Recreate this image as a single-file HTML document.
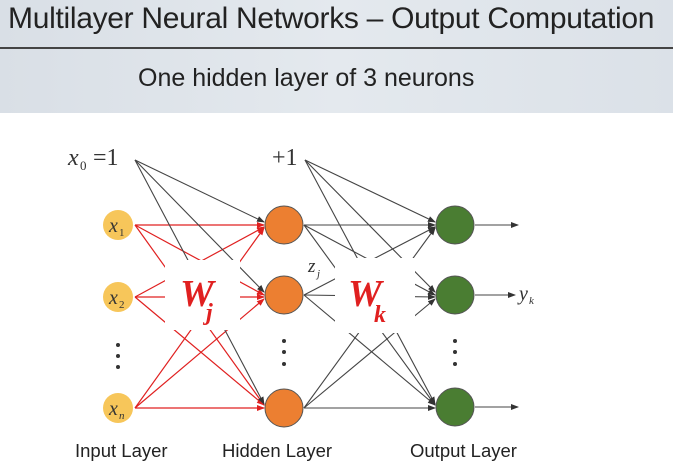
<!DOCTYPE html>
<html><head><style>
body{margin:0;width:673px;height:472px;overflow:hidden;background:#fff;font-family:"Liberation Sans",sans-serif;}
.hdr{position:absolute;left:0;top:0;width:673px;height:113px;background:linear-gradient(90deg,#d9dfe6,#e4e9ee 50%,#dbe1e8);}
.t{position:absolute;left:8px;top:2px;font-size:30px;color:#222;letter-spacing:-0.3px;}
.line{position:absolute;left:0;top:47px;width:673px;height:2px;background:#444;}
.s{position:absolute;left:138px;top:64px;font-size:25px;color:#222;}
.lab{position:absolute;top:440px;font-size:18.5px;color:#222;}
</style></head><body>
<div class="hdr"></div>
<div class="t">Multilayer Neural Networks – Output Computation</div>
<div class="line"></div>
<div class="s">One hidden layer of 3 neurons</div>
<svg width="673" height="472" style="position:absolute;left:0;top:0">
<defs>
<marker id="r" markerWidth="8" markerHeight="6" refX="7" refY="3" orient="auto" markerUnits="userSpaceOnUse"><path d="M0,0L8,3L0,6z" fill="#e02020"/></marker>
<marker id="g" markerWidth="8" markerHeight="6" refX="7" refY="3" orient="auto" markerUnits="userSpaceOnUse"><path d="M0,0L8,3L0,6z" fill="#333"/></marker>
</defs>
<g stroke="#e02020" stroke-width="1.2" marker-end="url(#r)">
<line x1="135" y1="225" x2="264" y2="225"/><line x1="135" y1="225" x2="264" y2="295"/><line x1="135" y1="225" x2="264" y2="405"/>
<line x1="135" y1="297" x2="264" y2="227"/><line x1="135" y1="297" x2="264" y2="297"/><line x1="135" y1="297" x2="264" y2="405"/>
<line x1="135" y1="408" x2="264" y2="228"/><line x1="135" y1="408" x2="264" y2="299"/><line x1="135" y1="408" x2="264" y2="408"/>
</g>
<g stroke="#444" stroke-width="1.1" marker-end="url(#g)">
<line x1="135" y1="160" x2="264" y2="222"/><line x1="135" y1="160" x2="264" y2="292"/><line x1="135" y1="160" x2="264" y2="404"/>
<line x1="305" y1="160" x2="435" y2="222"/><line x1="305" y1="160" x2="435" y2="292"/><line x1="305" y1="160" x2="435" y2="404"/>
<line x1="304" y1="225" x2="435" y2="225"/><line x1="304" y1="225" x2="435" y2="295"/><line x1="304" y1="225" x2="435" y2="405"/>
<line x1="304" y1="295" x2="435" y2="227"/><line x1="304" y1="295" x2="435" y2="297"/><line x1="304" y1="295" x2="435" y2="405"/>
<line x1="304" y1="408" x2="435" y2="228"/><line x1="304" y1="408" x2="435" y2="299"/><line x1="304" y1="408" x2="435" y2="408"/>
<line x1="475" y1="225" x2="518" y2="225"/><line x1="475" y1="295" x2="515" y2="295"/><line x1="475" y1="407" x2="518" y2="407"/>
</g>
<rect x="165" y="260" width="75" height="70" fill="#fff"/>
<rect x="335" y="258" width="80" height="75" fill="#fff"/>
<g fill="#f7c65a"><circle cx="118" cy="225" r="15"/><circle cx="118" cy="297" r="15"/><circle cx="118" cy="408" r="15"/></g>
<g fill="#ec7f31" stroke="#555"><circle cx="284" cy="225" r="19"/><circle cx="284" cy="295" r="19"/><circle cx="284" cy="408" r="19"/></g>
<g fill="#4a7d32" stroke="#555"><circle cx="455" cy="225" r="19"/><circle cx="455" cy="295" r="19"/><circle cx="455" cy="407" r="19"/></g>
<g fill="#333"><circle cx="118" cy="345" r="2"/><circle cx="118" cy="356" r="2"/><circle cx="118" cy="367" r="2"/>
<circle cx="284" cy="341" r="2"/><circle cx="284" cy="352" r="2"/><circle cx="284" cy="364" r="2"/>
<circle cx="455" cy="341" r="2"/><circle cx="455" cy="352" r="2"/><circle cx="455" cy="364" r="2"/></g>
<g font-family="Liberation Serif" fill="#333" font-style="italic">
<text x="109" y="232" font-size="20">x</text><text x="119" y="236" font-size="11" font-style="normal">1</text>
<text x="109" y="304" font-size="20">x</text><text x="119" y="308" font-size="11" font-style="normal">2</text>
<text x="109" y="415" font-size="20">x</text><text x="119" y="419" font-size="11">n</text>
<text x="68" y="165" font-size="24">x</text><text x="80" y="170" font-size="13" font-style="normal">0</text>
<text x="93" y="165" font-size="24" font-style="normal">=1</text>
<text x="272" y="165" font-size="24" font-style="normal">+1</text>
<text x="308" y="272" font-size="19">z</text><text x="317" y="277" font-size="11">j</text>
<text x="519" y="300" font-size="20">y</text><text x="529" y="304" font-size="11">k</text>
</g>
<g font-family="Liberation Serif" fill="#e02020" font-style="italic" font-weight="bold">
<text x="180" y="306" font-size="38">W</text><text x="206" y="320" font-size="24">j</text>
<text x="348" y="306" font-size="38">W</text><text x="374" y="322" font-size="24">k</text>
</g>
</svg>
<div class="lab" style="left:75px">Input Layer</div>
<div class="lab" style="left:222px">Hidden Layer</div>
<div class="lab" style="left:410px">Output Layer</div>
</body></html>
